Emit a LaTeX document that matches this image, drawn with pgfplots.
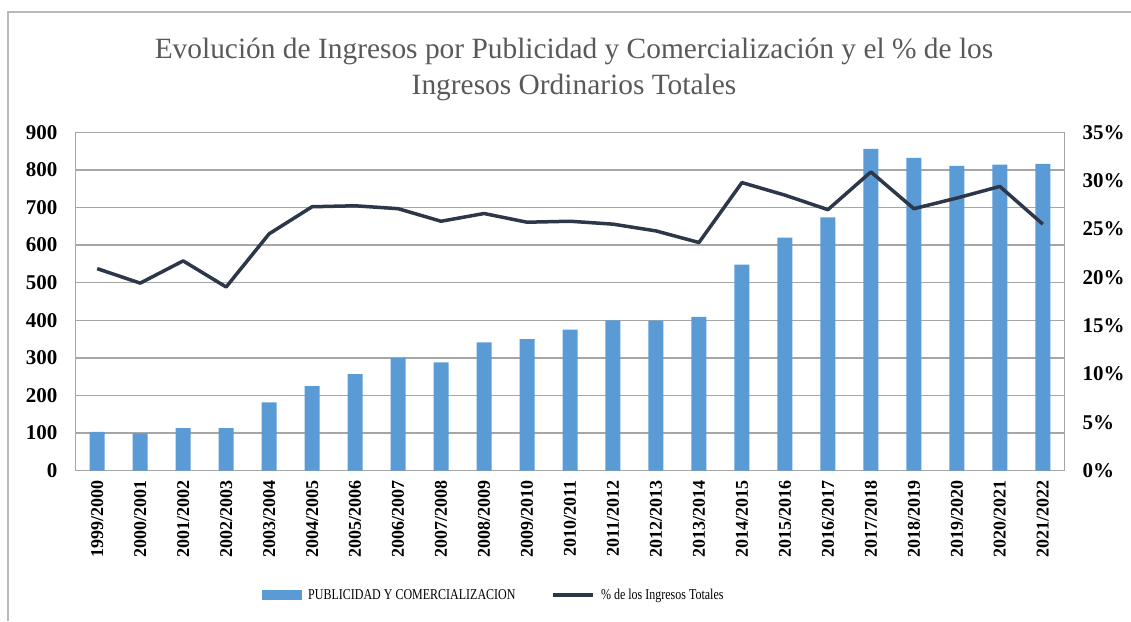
\documentclass[border=0pt]{standalone}
\usepackage{fontspec}
\setmainfont{Liberation Serif}
\usepackage{graphicx}
\usepackage{pgfplots}
\pgfplotsset{compat=1.18}
\definecolor{barblue}{HTML}{5B9BD5}
\definecolor{linedark}{HTML}{2C384A}
\definecolor{gridgray}{HTML}{A6A6A6}
\definecolor{titlegray}{HTML}{595959}
\begin{document}
\begin{tikzpicture}
\path[use as bounding box] (0,0) rectangle (1131pt,621pt);
\draw[gray!55, line width=2pt] (8pt,0) -- (8pt,609pt) -- (1131pt,609pt);
\node[align=center, text=titlegray, font=\fontsize{29.4}{36}\selectfont] at (574pt,552pt)
  {Evolución de Ingresos por Publicidad y Comercialización y el \% de los\\Ingresos Ordinarios Totales};
\begin{axis}[
  at={(75.7pt,150.3pt)}, anchor=south west,
  scale only axis, width=988.6pt, height=338.4pt,
  xmin=-0.5, xmax=22.5, ymin=0, ymax=900,
  ytick={0,100,...,900},
  yticklabels={0,100,200,300,400,500,600,700,800,900},
  xtick={0,...,22},
  xticklabels={1999/2000,2000/2001,2001/2002,2002/2003,2003/2004,2004/2005,2005/2006,2006/2007,2007/2008,2008/2009,2009/2010,2010/2011,2011/2012,2012/2013,2013/2014,2014/2015,2015/2016,2016/2017,2017/2018,2018/2019,2019/2020,2020/2021,2021/2022},
  xticklabel style={rotate=90, anchor=east, font=\fontsize{18}{18}\selectfont\bfseries, inner sep=0pt},
  yticklabel style={font=\fontsize{21}{21}\selectfont\bfseries, inner sep=0pt, xshift=-18pt},
  major tick length=0pt,
  ymajorgrids, grid style={gridgray, line width=1.3pt},
  axis line style={gridgray, line width=1.3pt},
  axis y line*=left, axis x line*=bottom,
  xticklabel shift=10pt,
  clip=false,
  legend style={at={(0.423,-0.367)}, anchor=center, draw=none, legend columns=2,
    font=\fontsize{15}{15}\selectfont, column sep=4pt, inner sep=0pt,
    /tikz/every even column/.append style={column sep=34pt}},
  legend image code/.code={\fill[barblue] (0pt,-5pt) rectangle (40pt,5pt);},
]
\addplot[ybar, bar width=15pt, fill=barblue, draw=none] coordinates {
(0,103) (1,99) (2,113) (3,113) (4,182) (5,225) (6,257) (7,300) (8,288) (9,341)
(10,350) (11,375) (12,400) (13,399) (14,409) (15,548) (16,620) (17,674) (18,856)
(19,832) (20,811) (21,814) (22,816)};
\addlegendentry{\scalebox{0.8}[1]{PUBLICIDAD Y COMERCIALIZACION}}
\addlegendimage{legend image code/.code={\draw[linedark, line width=3.5pt] (0pt,0pt) -- (40pt,0pt);}}
\addlegendentry{\scalebox{0.8}[1]{\% de los Ingresos Totales}}
\end{axis}
\begin{axis}[
  at={(75.7pt,150.3pt)}, anchor=south west,
  scale only axis, width=988.6pt, height=338.4pt,
  xmin=-0.5, xmax=22.5, ymin=0, ymax=0.35,
  axis x line=none,
  axis y line*=right,
  axis line style={gridgray, line width=1.3pt},
  ytick={0,0.05,...,0.351},
  yticklabels={0\%,5\%,10\%,15\%,20\%,25\%,30\%,35\%},
  yticklabel style={font=\fontsize{21}{21}\selectfont\bfseries, inner sep=0pt, anchor=west, xshift=18pt},
  major tick length=0pt,
  clip=false,
]
\addplot[linedark, line width=3.5pt, line join=round, mark=none] coordinates {
(0,0.209) (1,0.194) (2,0.217) (3,0.190) (4,0.245) (5,0.273) (6,0.274) (7,0.271)
(8,0.258) (9,0.266) (10,0.257) (11,0.258) (12,0.255) (13,0.248) (14,0.236)
(15,0.298) (16,0.285) (17,0.270) (18,0.309) (19,0.271) (20,0.282) (21,0.294) (22,0.255)};
\end{axis}
\end{tikzpicture}
\end{document}
